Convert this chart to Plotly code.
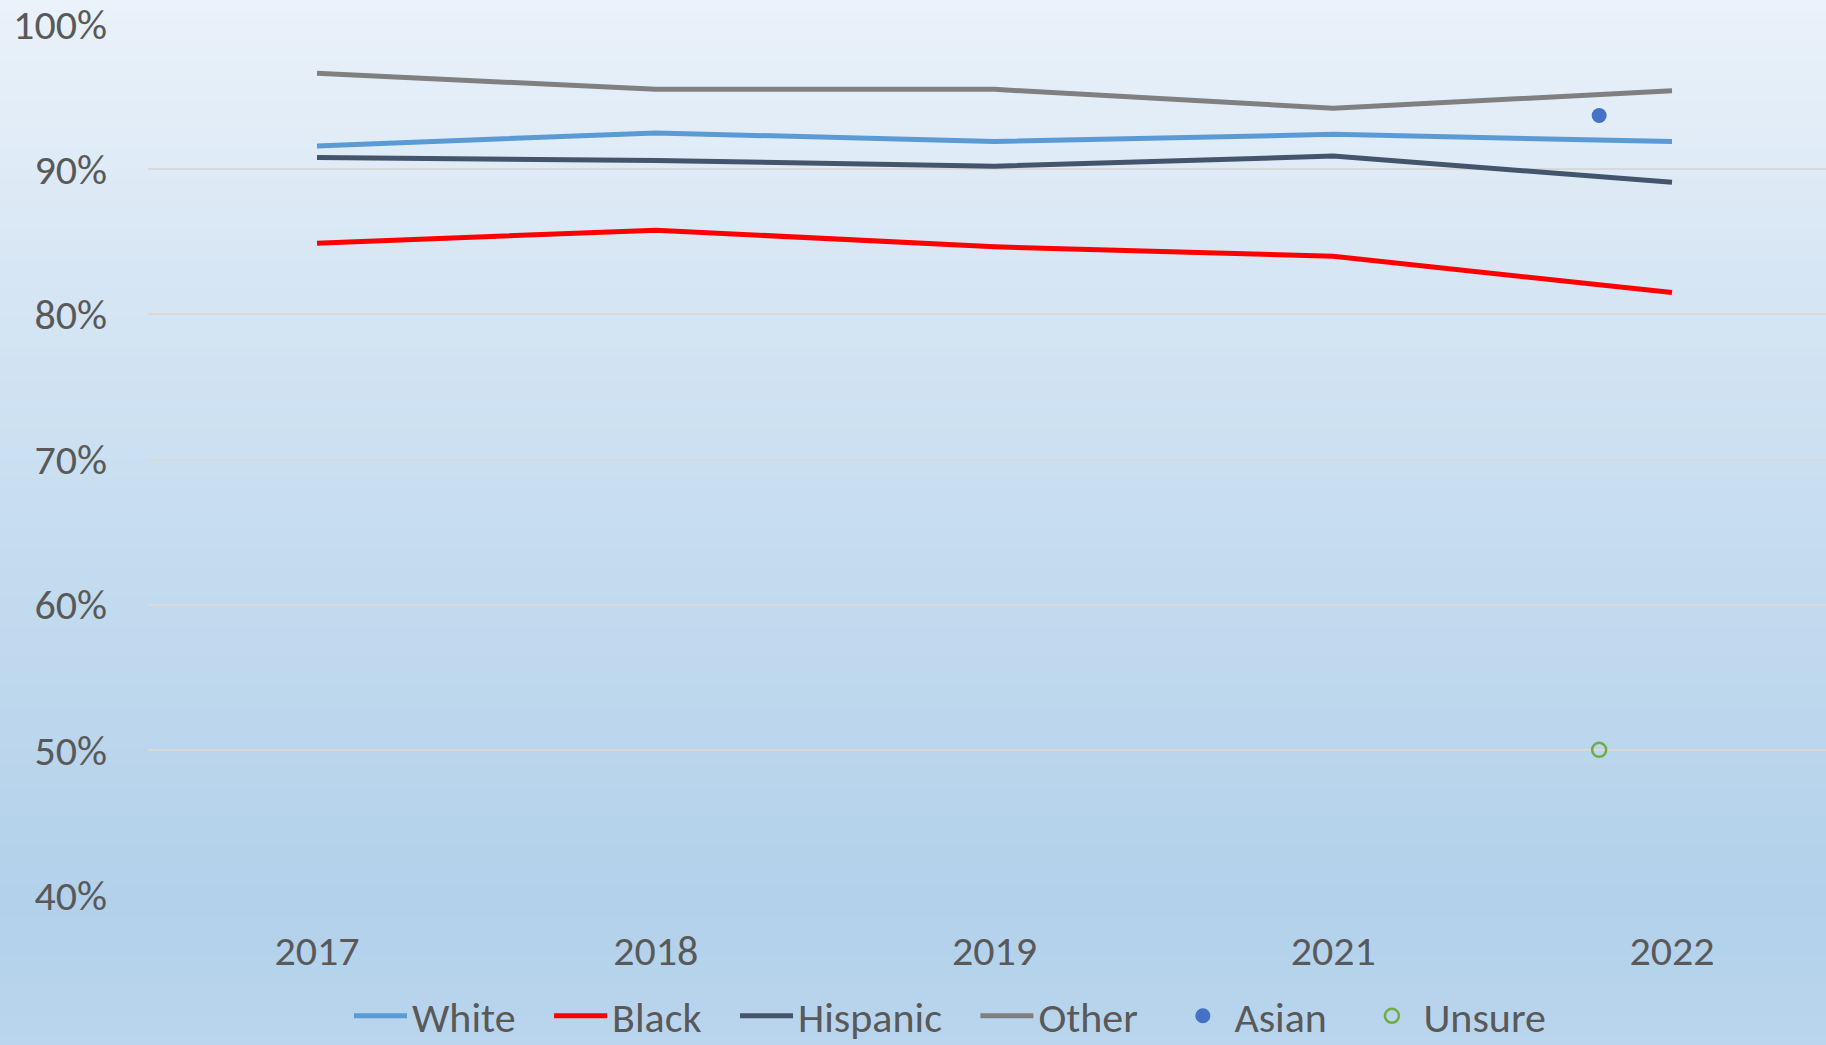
import plotly.graph_objects as go

years = ["2017", "2018", "2019", "2021", "2022"]
white = [91.6, 92.5, 91.9, 92.4, 91.9]
black = [84.9, 85.8, 84.65, 84.0, 81.5]
hispanic = [90.8, 90.6, 90.2, 90.9, 89.1]
other = [96.6, 95.5, 95.5, 94.2, 95.4]
asian_x = [3.785]
asian_y = [93.7]
unsure_x = [3.785]
unsure_y = [50.0]
y_ticks = [40, 50, 60, 70, 80, 90, 100]
y_ticktext = ["40%", "50%", "60%", "70%", "80%", "90%", "100%"]

W, H = 1826, 1045
ML, MR, MT, MB = 148, 0, 24, 150
PW, PH = W - ML - MR, H - MT - MB

FONT = "Carlito, Lato, sans-serif"
TXT = "#595959"
PAD = "\u00a0\u00a0\u00a0"

xpos = list(range(len(years)))

fig = go.Figure()
fig.add_trace(go.Scatter(x=xpos, y=white, name="White" + PAD, mode="lines",
                         line=dict(color="#5b9bd5", width=5)))
fig.add_trace(go.Scatter(x=xpos, y=black, name="Black" + PAD, mode="lines",
                         line=dict(color="#ff0000", width=5)))
fig.add_trace(go.Scatter(x=xpos, y=hispanic, name="Hispanic" + PAD, mode="lines",
                         line=dict(color="#44546a", width=5)))
fig.add_trace(go.Scatter(x=xpos, y=other, name="Other" + PAD, mode="lines",
                         line=dict(color="#808080", width=5)))
fig.add_trace(go.Scatter(x=asian_x, y=asian_y, name="Asian" + PAD, mode="markers",
                         marker=dict(color="#4472c4", size=15, line=dict(width=0))))
fig.add_trace(go.Scatter(x=unsure_x, y=unsure_y, name="Unsure", mode="markers",
                         marker=dict(color="#70ad47", size=14, symbol="circle-open",
                                     line=dict(color="#70ad47", width=2.5))))

# gradient background bands (paper coords extend over whole figure)
def lerp(c1, c2, t):
    return tuple(round(a + (b - a) * t) for a, b in zip(c1, c2))

stops = [(0, (234, 242, 250)), (250, (217, 231, 244)), (500, (200, 222, 240)),
         (700, (189, 215, 237)), (900, (179, 209, 235)), (1045, (186, 213, 237))]

def color_at(p):
    for (p0, c0), (p1, c1) in zip(stops, stops[1:]):
        if p0 <= p <= p1:
            return lerp(c0, c1, (p - p0) / (p1 - p0))
    return stops[-1][1]

shapes = []
n = 105
for i in range(n):
    p0 = i * H / n - (1 if i == 0 else 0)
    p1 = (i + 1) * H / n + 1
    c = color_at((p0 + p1) / 2)
    shapes.append(dict(type="rect", xref="paper", yref="paper", layer="below",
                       x0=-ML / PW - 0.01, x1=1 + MR / PW + 0.01,
                       y0=(H - MB - p1) / PH, y1=(H - MB - p0) / PH,
                       fillcolor="rgb(%d,%d,%d)" % c, line=dict(width=0)))

px_per_unit = 338.75
x0 = -(317 - ML) / px_per_unit
x1 = x0 + PW / px_per_unit

fig.update_layout(
    width=W, height=H,
    margin=dict(l=ML, r=MR, t=MT, b=MB, autoexpand=False),
    paper_bgcolor="rgb(186,213,237)",
    plot_bgcolor="rgba(0,0,0,0)",
    shapes=shapes,
    font=dict(family=FONT, color=TXT),
    showlegend=True,
    legend=dict(orientation="h", x=(354 - 5 - ML) / PW, xanchor="left",
                y=(H - MB - 982) / PH, yanchor="top",
                font=dict(size=42, color=TXT, family=FONT),
                bgcolor="rgba(0,0,0,0)", itemwidth=53, tracegroupgap=0),
    xaxis=dict(range=[x0, x1], tickvals=xpos, ticktext=years, showgrid=False,
               zeroline=False, showline=False, ticks="", ticklabelstandoff=27,
               ticklabeloverflow="allow",
               tickfont=dict(size=42, color=TXT, family=FONT), fixedrange=True),
    yaxis=dict(range=[40, 100], tickvals=y_ticks, ticktext=y_ticktext,
               showgrid=True, gridcolor="#d9d9d9", gridwidth=2, zeroline=False,
               showline=False, ticks="", ticklabelstandoff=40,
               ticklabeloverflow="allow",
               tickfont=dict(size=42, color=TXT, family=FONT), fixedrange=True),
)

fig.write_html("out.html", config={"displayModeBar": False},
               post_script="document.body.style.margin='0';document.body.style.overflow='hidden';")
